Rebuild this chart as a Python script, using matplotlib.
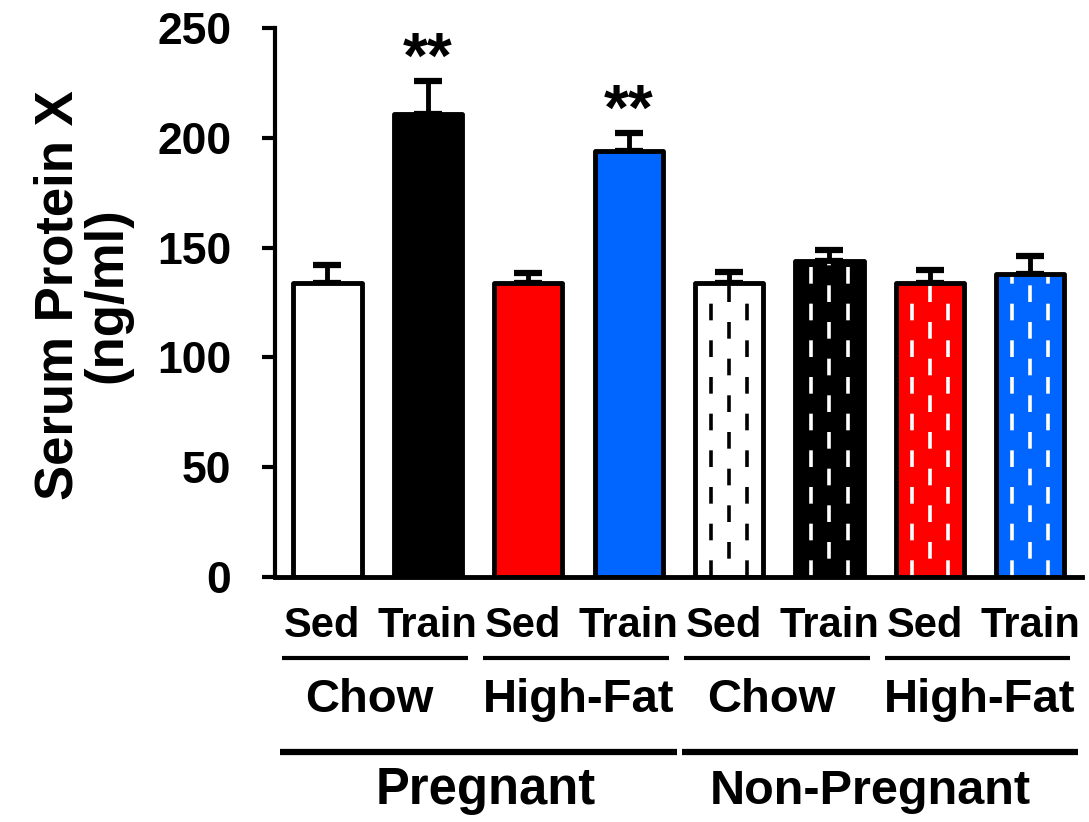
import numpy as np
import matplotlib
matplotlib.use("Agg")
import matplotlib.pyplot as plt

plt.rcParams['font.family'] = ['Liberation Sans', 'DejaVu Sans']
plt.rcParams['font.weight'] = 'bold'
plt.rcParams['lines.scale_dashes'] = False

# data
treatments = ['Sed', 'Train', 'Sed', 'Train', 'Sed', 'Train', 'Sed', 'Train']
diets = ['Chow', 'High-Fat', 'Chow', 'High-Fat']
states = ['Pregnant', 'Non-Pregnant']
means = [134, 211, 134, 194, 134, 144, 134, 138]
sems = [8, 15, 4.5, 8, 5, 5, 6, 8]
colors = ['white', 'black', '#FF0000', '#0066FF', 'white', 'black', '#FF0000', '#0066FF']
dashed = [False, False, False, False, True, True, True, True]
stars = ['', '**', '', '**', '', '', '', '']

x = np.arange(len(means))
bw = 0.68

fig = plt.figure(figsize=(10.89, 8.22), dpi=100)
ax = fig.add_axes([0.2525, 0.2981, 0.741, 0.6679])

# error bars (upper only)
ax.errorbar(x, means, yerr=[np.zeros(len(sems)), sems], fmt='none', ecolor='black',
            elinewidth=3.5, capsize=10, capthick=4.5, zorder=1)

# bar faces
ax.bar(x, means, bw, color=colors, linewidth=0, zorder=2)

# dashed vertical pattern for non-pregnant bars
for xi, m, c, d in zip(x, means, colors, dashed):
    if not d:
        continue
    lc = 'black' if c == 'white' else 'white'
    for off, phase in [(-0.18, 0), (0.0, 13.2), (0.18, 0)]:
        ax.vlines(xi + off, 0, m, colors=lc, linewidth=2.6,
                  linestyles=[(phase, (12, 14.4))], zorder=3)

# bar edges
edges = ax.bar(x, means, bw, fill=False, edgecolor='black', linewidth=3.5, zorder=4)
for p in edges:
    p.set_joinstyle('round')

# significance stars
for xi, m, s, st in zip(x, means, sems, stars):
    if st:
        ax.annotate(st, (xi, m + s), xytext=(0, -7), textcoords='offset points',
                    ha='center', va='bottom', fontsize=46, fontweight='bold')

ax.set_xlim(-0.523, 7.515)
ax.set_ylim(0, 250)
ax.set_yticks([0, 50, 100, 150, 200, 250])
ax.tick_params(axis='y', direction='out', length=9.5, width=3, labelsize=32, pad=22)
ax.set_xticks([])
for side in ['top', 'right']:
    ax.spines[side].set_visible(False)
ax.spines['left'].set_linewidth(3)
ax.spines['bottom'].set_linewidth(3.5)

tr = ax.get_xaxis_transform()
# treatment labels
for xi, t in zip(x, treatments):
    ax.text(xi - 0.05 if t == 'Sed' else xi, -0.1097, t, transform=tr, ha='center',
            va='baseline', fontsize=30, fontweight='bold')
# diet lines and labels
for i, dlab in enumerate(diets):
    cx = 2 * i + 0.5
    ax.plot([cx - 0.95, cx + 0.9], [-0.148, -0.148], transform=tr, color='black',
            linewidth=3, clip_on=False, solid_capstyle='butt')
    shift = -0.08 if dlab == 'Chow' else 0.0
    ax.text(cx + shift, -0.2468, dlab, transform=tr, ha='center', va='baseline',
            fontsize=34, fontweight='bold')
# state lines and labels
for i, slab in enumerate(states):
    cx = 4 * i + 1.5
    ax.plot([cx - 1.97, cx + 1.98], [-0.318, -0.318], transform=tr, color='black',
            linewidth=4.5, clip_on=False, solid_capstyle='butt')
    shift, size = (0.08, 36.5) if i == 0 else (-0.09, 35)
    ax.text(cx + shift, -0.413, slab, transform=tr, ha='center', va='baseline',
            fontsize=size, fontweight='bold')

fig.text(83 / 1089, 1 - 295 / 822, 'Serum Protein X\n(ng/ml)', rotation=90,
         ha='center', va='center', multialignment='center', fontsize=38,
         fontweight='bold', linespacing=0.95)

fig.savefig('out.png', dpi=100)
